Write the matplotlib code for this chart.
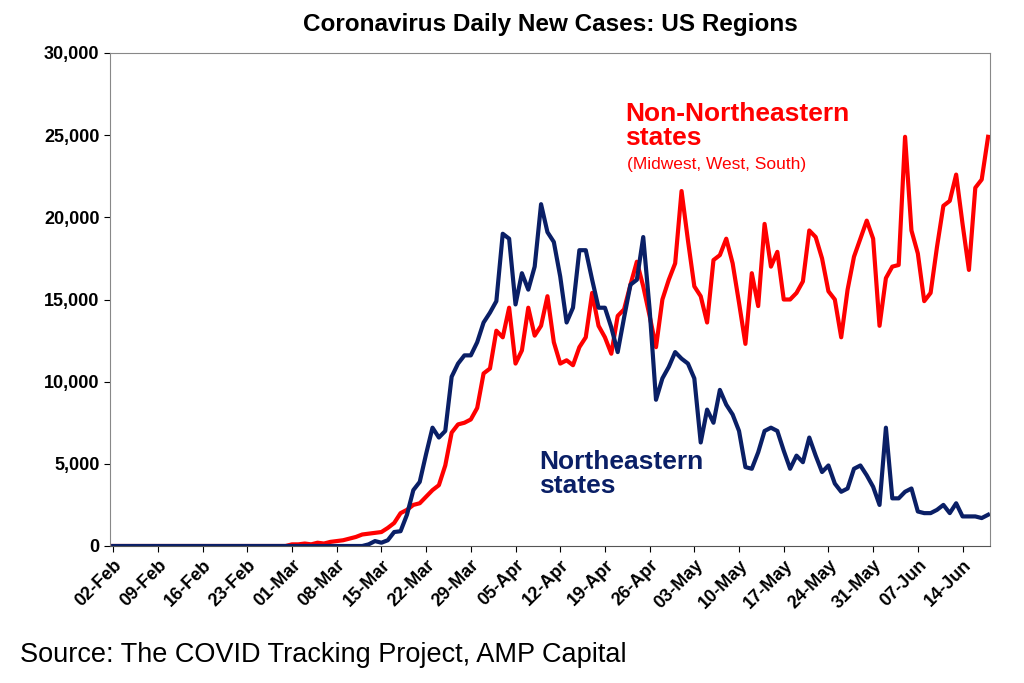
import matplotlib.pyplot as plt
import matplotlib.dates as mdates
import matplotlib.ticker as mticker
import pandas as pd

plt.rcParams['font.family'] = ['Liberation Sans', 'DejaVu Sans']

dates = pd.date_range('2020-02-02', periods=138, freq='D')

# Northeastern states daily new cases
northeast = [0] * 40 + [100, 300,
    200, 350, 850, 900, 1900, 3400, 3900, 5600, 7200, 6600,
    7000, 10300, 11100, 11600, 11600, 12400, 13600, 14200, 14900, 19000,
    18700, 14700, 16600, 15600, 17000, 20800, 19100, 18500, 16400, 13600,
    14500, 18000, 18000, 16200, 14500, 14500, 13300, 11800, 13900, 15900,
    16200, 18800, 14400, 8900, 10200, 10900, 11800, 11400, 11100, 10200,
    6300, 8300, 7500, 9500, 8600, 8000, 7000, 4800, 4700, 5700,
    7000, 7200, 7000, 5800, 4700, 5500, 5100, 6600, 5500, 4500,
    4900, 3800, 3300, 3500, 4700, 4900, 4300, 3600, 2500, 7200,
    2900, 2900, 3300, 3500, 2100, 2000, 2000, 2200, 2500, 2000,
    2600, 1800, 1800, 1800, 1700, 1900]

# Non-Northeastern states (Midwest, West, South)
other = [0] * 28 + [100, 100, 150, 100, 200, 150, 250, 300, 350, 450, 550, 700, 750, 800,
    850, 1100, 1400, 2000, 2200, 2500, 2600, 3000, 3400, 3700,
    4900, 6900, 7400, 7500, 7700, 8400, 10500, 10800, 13100, 12700,
    14500, 11100, 11900, 14500, 12800, 13400, 15200, 12400, 11100, 11300,
    11000, 12100, 12700, 15400, 13400, 12700, 11700, 14000, 14400, 15900,
    17300, 15800, 14000, 12100, 15000, 16200, 17200, 21600, 18600, 15800,
    15200, 13600, 17400, 17700, 18700, 17200, 14800, 12300, 16600, 14600,
    19600, 17000, 17900, 15000, 15000, 15400, 16100, 19200, 18800, 17500,
    15500, 15000, 12700, 15600, 17600, 18700, 19800, 18700, 13400, 16300,
    17000, 17100, 24900, 19200, 17800, 14900, 15400, 18200, 20700, 21000,
    22600, 19600, 16800, 21800, 22300, 24900]

navy = '#0a1f66'
red = '#ff0000'

fig = plt.figure(figsize=(10.24, 6.83), dpi=100)
ax = fig.add_axes([110 / 1024, 1 - 546 / 683, 880 / 1024, 493 / 683])

ax.plot(dates, other, color=red, lw=3)
ax.plot(dates, northeast, color=navy, lw=3)

ax.set_xlim(dates[0] - pd.Timedelta(days=0.5), dates[-1] + pd.Timedelta(days=0.3))
ax.set_ylim(0, 30000)
ax.yaxis.set_major_locator(mticker.MultipleLocator(5000))
ax.yaxis.set_major_formatter(mticker.FuncFormatter(lambda v, p: f'{int(v):,}'))
ax.set_xticks(dates[::7])
ax.xaxis.set_major_formatter(mdates.DateFormatter('%d-%b'))
for lab in ax.get_xticklabels():
    lab.set_rotation(45)
    lab.set_ha('right')
    lab.set_rotation_mode('anchor')
ax.tick_params(labelsize=13, length=4, direction='out')
for lab in ax.get_xticklabels() + ax.get_yticklabels():
    lab.set_fontweight('bold')
for s in ax.spines.values():
    s.set_color('#888888')
ax.spines['bottom'].set_color('#555555')

ax.set_title('Coronavirus Daily New Cases: US Regions', fontsize=17.5, fontweight='bold', pad=16)

ax.text(0.585, 0.90, 'Non-Northeastern\nstates', transform=ax.transAxes, color=red,
        fontsize=19, fontweight='bold', va='top', linespacing=1.0)
ax.text(0.587, 0.79, '(Midwest, West, South)', transform=ax.transAxes, color=red,
        fontsize=12.5, va='top')
ax.text(0.488, 0.195, 'Northeastern\nstates', transform=ax.transAxes, color=navy,
        fontsize=19, fontweight='bold', va='top', linespacing=1.0)

fig.text(20 / 1024, 1 - 655 / 683, 'Source: The COVID Tracking Project, AMP Capital',
         fontsize=19.5, va='center')

fig.savefig('out.png', dpi=100)
